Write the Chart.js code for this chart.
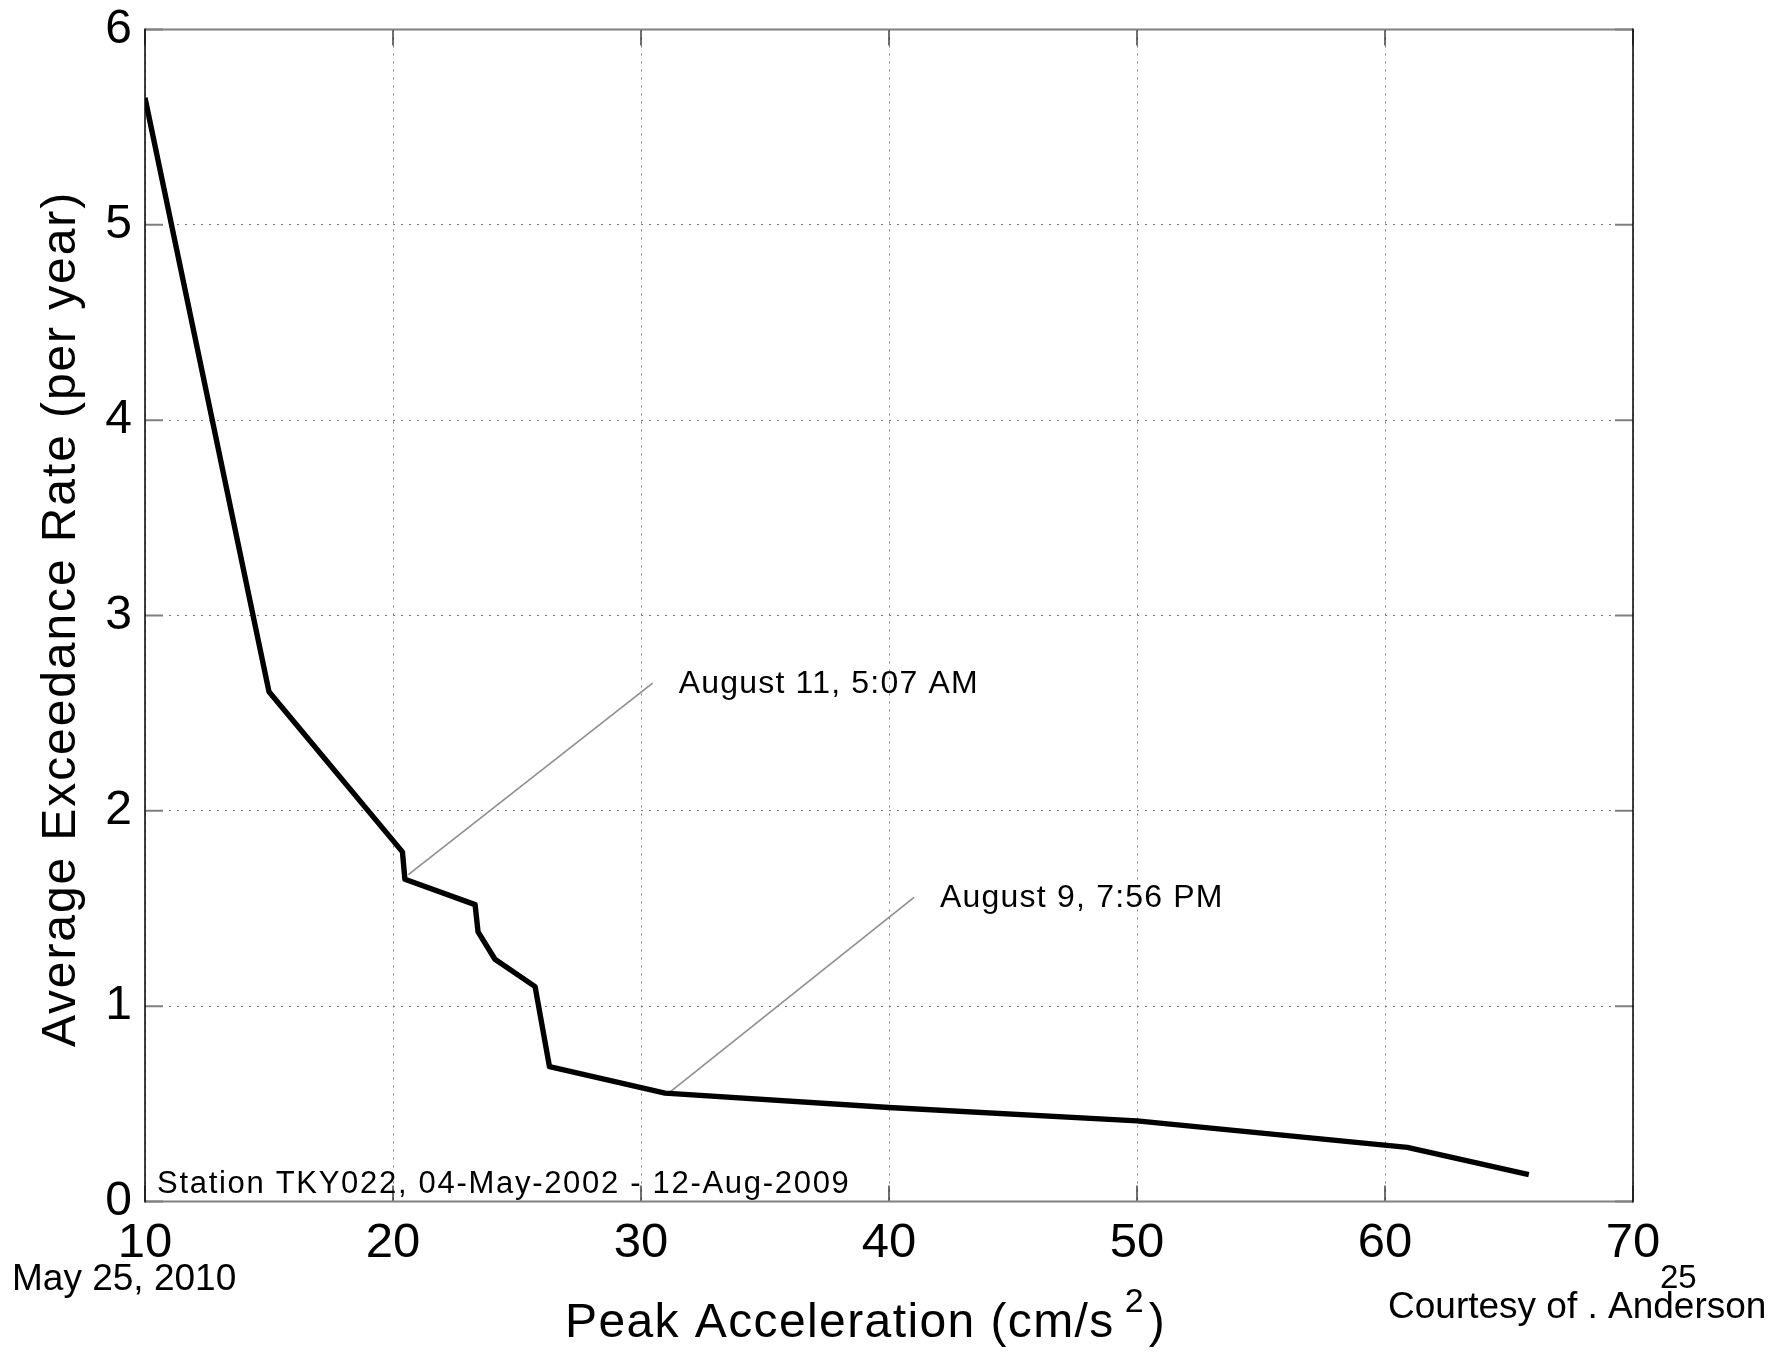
<!DOCTYPE html>
<html>
<head>
<meta charset="utf-8">
<script src="https://cdn.jsdelivr.net/npm/chart.js@4.4.0/dist/chart.umd.min.js"></script>
<style>
  html, body { margin: 0; padding: 0; background: #fff; }
  #wrap { width: 1773px; height: 1353px; }
</style>
</head>
<body>
<div id="wrap"><canvas id="hazard" width="1773" height="1353"></canvas></div>
<script>
// Exceedance curve: peak acceleration (cm/s^2) vs average exceedance rate (per year)
const accel = [10, 15, 20.38, 20.48, 23.31, 23.43, 24.11, 25.73, 26.31, 30.97, 40, 50, 60.9, 65.8];
const rate  = [5.65, 2.61, 1.79, 1.65, 1.52, 1.38, 1.24, 1.10, 0.69, 0.555, 0.481, 0.413, 0.277, 0.137];

// Axis ticks
const xTicks = [10, 20, 30, 40, 50, 60, 70];
const xTickLabels = ['10', '20', '30', '40', '50', '60', '70'];
const yTicks = [0, 1, 2, 3, 4, 5, 6];
const yTickLabels = ['0', '1', '2', '3', '4', '5', '6'];

// Event callouts: leader line from the curve out to the label
const calloutNames = ['August 11, 5:07 AM', 'August 9, 7:56 PM'];
const calloutFromX = [20.62, 31.05];
const calloutFromY = [1.673, 0.549];
const calloutToX   = [30.47, 41.01];
const calloutToY   = [2.654, 1.557];

const stationNote = 'Station TKY022, 04-May-2002 - 12-Aug-2009';
const xTitle = 'Peak Acceleration (cm/s';
const xTitleSup = '2';
const yTitle = 'Average Exceedance Rate (per year)';
const dateNote = 'May 25, 2010';
const pageNote = '25';
const creditNote = 'Courtesy of . Anderson';

const FONT = '"Liberation Sans", Arial, Helvetica, sans-serif';

const curveData = accel.map((x, i) => ({ x: x, y: rate[i] }));
const calloutSets = calloutNames.map((name, i) => ({
  label: name,
  data: [{ x: calloutFromX[i], y: calloutFromY[i] }, { x: calloutToX[i], y: calloutToY[i] }],
  showLine: true,
  borderColor: '#8e8e8e',
  borderWidth: 1.6,
  pointRadius: 0,
  order: 2
}));

function setText(ctx, size, spacing) {
  ctx.font = size + 'px ' + FONT;
  ctx.fillStyle = '#000';
  if ('letterSpacing' in ctx) ctx.letterSpacing = (spacing || 0) + 'px';
}

// Box frame with inward tick marks
const framePlugin = {
  id: 'frame',
  beforeDatasetsDraw(chart) {
    const { ctx, chartArea: a, scales } = chart;
    ctx.save();
    // y ticks, left and right
    ctx.strokeStyle = '#7f7f7f';
    ctx.lineWidth = 2;
    yTicks.forEach(v => {
      const y = scales.y.getPixelForValue(v);
      ctx.beginPath();
      ctx.moveTo(a.left, y); ctx.lineTo(a.left + 18, y);
      ctx.moveTo(a.right, y); ctx.lineTo(a.right - 18, y);
      ctx.stroke();
    });
    // x ticks, bottom and top
    ctx.strokeStyle = '#222';
    ctx.lineWidth = 1.3;
    xTicks.forEach(v => {
      const x = scales.x.getPixelForValue(v);
      ctx.beginPath();
      ctx.moveTo(x, a.bottom); ctx.lineTo(x, a.bottom - 16);
      ctx.moveTo(x, a.top); ctx.lineTo(x, a.top + 16);
      ctx.stroke();
    });
    // frame
    ctx.strokeStyle = '#808080';
    ctx.lineWidth = 2.2;
    ctx.beginPath();
    ctx.moveTo(a.left, a.top); ctx.lineTo(a.right, a.top);
    ctx.moveTo(a.left, a.bottom); ctx.lineTo(a.right, a.bottom);
    ctx.stroke();
    ctx.strokeStyle = '#111';
    ctx.lineWidth = 1.6;
    ctx.beginPath();
    ctx.moveTo(a.left, a.top - 1); ctx.lineTo(a.left, a.bottom + 1);
    ctx.moveTo(a.right, a.top - 1); ctx.lineTo(a.right, a.bottom + 1);
    ctx.stroke();
    ctx.restore();
  }
};

// Axis titles, callout labels and page notes
const textPlugin = {
  id: 'texts',
  afterDraw(chart) {
    const { ctx, chartArea: a, scales } = chart;
    ctx.save();
    ctx.textAlign = 'left';

    // callout labels, placed just past the end of each leader line
    ctx.textBaseline = 'middle';
    calloutNames.forEach((name, i) => {
      const x = scales.x.getPixelForValue(calloutToX[i]);
      const y = scales.y.getPixelForValue(calloutToY[i]);
      setText(ctx, 32, 1.2);
      ctx.fillText(name, x + 26, y + 1);
    });

    // station note inside the lower-left corner
    ctx.textBaseline = 'alphabetic';
    setText(ctx, 31, 1.7);
    ctx.fillText(stationNote, a.left + 12, a.bottom - 9);

    // x title with superscript
    setText(ctx, 48, 1.4);
    let tx = 565;
    const tb = 1337;
    ctx.fillText(xTitle, tx, tb);
    tx += ctx.measureText(xTitle).width + 10;
    setText(ctx, 34, 0);
    ctx.fillText(xTitleSup, tx, tb - 25);
    tx += ctx.measureText(xTitleSup).width + 5;
    setText(ctx, 48, 0);
    ctx.fillText(')', tx, tb);

    // y title, rotated
    ctx.save();
    ctx.translate(74.6, 619);
    ctx.rotate(-Math.PI / 2);
    ctx.textAlign = 'center';
    setText(ctx, 48, 1.9);
    ctx.fillText(yTitle, 0, 0);
    ctx.restore();

    // page notes
    ctx.textAlign = 'left';
    setText(ctx, 37, 0);
    ctx.fillText(dateNote, 12, 1290);
    ctx.fillText(creditNote, 1388, 1318);
    setText(ctx, 33, 0);
    ctx.fillText(pageNote, 1660, 1288);
    ctx.restore();
  }
};

new Chart(document.getElementById('hazard'), {
  type: 'scatter',
  data: {
    datasets: [
      {
        label: 'Exceedance rate',
        data: curveData,
        showLine: true,
        borderColor: '#000',
        borderWidth: 5.4,
        borderJoinStyle: 'round',
        pointRadius: 0,
        order: 1
      },
      ...calloutSets
    ]
  },
  options: {
    responsive: false,
    animation: false,
    devicePixelRatio: 1,
    layout: { padding: { left: 0, top: 29.5, right: 140, bottom: 0 } },
    plugins: { legend: { display: false }, tooltip: { enabled: false } },
    scales: {
      x: {
        type: 'linear',
        min: 10, max: 70,
        afterBuildTicks: s => { s.ticks = xTicks.map(v => ({ value: v })); },
        afterFit: s => { s.height = 151.5; },
        grid: { color: '#777', lineWidth: 1, drawTicks: false },
        border: { display: false, dash: [2, 6] },
        ticks: {
          color: '#000',
          padding: 13,
          maxRotation: 0,
          font: { family: FONT, size: 49 },
          callback: v => xTickLabels[xTicks.indexOf(v)]
        }
      },
      y: {
        type: 'linear',
        min: 0, max: 6,
        afterBuildTicks: s => { s.ticks = yTicks.map(v => ({ value: v })); },
        afterFit: s => { s.width = 145; },
        // the label gap comes from an invisible tick mark so it does not pad the top of the plot
        grid: { color: '#777', lineWidth: 1, drawTicks: true, tickLength: 13, tickColor: 'rgba(0,0,0,0)' },
        border: { display: false, dash: [2, 6] },
        ticks: {
          color: '#000',
          padding: 0,
          font: { family: FONT, size: 48 },
          callback: v => yTickLabels[yTicks.indexOf(v)]
        }
      }
    }
  },
  plugins: [framePlugin, textPlugin]
});
</script>
</body>
</html>
